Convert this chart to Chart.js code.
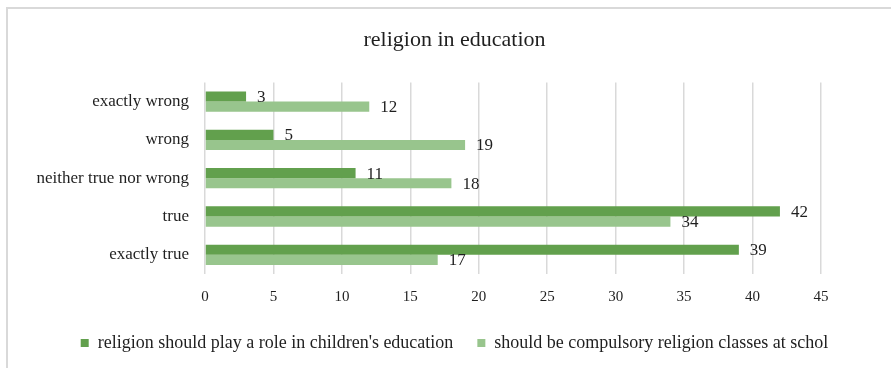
<!DOCTYPE html>
<html>
<head>
<meta charset="utf-8">
<script src="https://cdn.jsdelivr.net/npm/chart.js@4.4.1/dist/chart.umd.min.js"></script>
<style>
  html, body { margin: 0; padding: 0; background: #fff; }
  #wrap { position: relative; width: 891px; height: 368px; }
</style>
</head>
<body>
<div id="wrap"><canvas id="chart"></canvas></div>
<script>
const categories = ['exactly wrong', 'wrong', 'neither true nor wrong', 'true', 'exactly true'];
const roleInEducation = [3, 5, 11, 42, 39];
const compulsoryClasses = [12, 19, 18, 34, 17];
const seriesNames = [
  "religion should play a role in children's education",
  'should be compulsory religion classes at schol',
];
const xTicks = [0, 5, 10, 15, 20, 25, 30, 35, 40, 45];

const serif = '"Liberation Serif", "Times New Roman", serif';
const textColor = '#1f1f1f';

// light grey frame round the chart (only top and left edges are in view)
const framePlugin = {
  id: 'frame',
  beforeDraw(chart) {
    const ctx = chart.ctx;
    ctx.save();
    ctx.strokeStyle = '#d9d9d9';
    ctx.lineWidth = 2;
    ctx.beginPath();
    ctx.moveTo(7, chart.height);
    ctx.lineTo(7, 8);
    ctx.lineTo(chart.width, 8);
    ctx.stroke();
    ctx.restore();
  },
};

// value labels just right of each bar end
const valueLabels = {
  id: 'valueLabels',
  afterDatasetsDraw(chart) {
    const ctx = chart.ctx;
    ctx.save();
    ctx.font = '17px ' + serif;
    ctx.fillStyle = textColor;
    ctx.textAlign = 'left';
    ctx.textBaseline = 'middle';
    chart.data.datasets.forEach((ds, i) => {
      chart.getDatasetMeta(i).data.forEach((bar, j) => {
        ctx.fillText(ds.data[j], bar.x + 11, bar.y + 1);
      });
    });
    ctx.restore();
  },
};

new Chart(document.getElementById('chart'), {
  type: 'bar',
  data: {
    labels: categories,
    datasets: [
      {
        label: seriesNames[0],
        data: roleInEducation,
        backgroundColor: '#62a04d',
        borderWidth: 0,
      },
      {
        label: seriesNames[1],
        data: compulsoryClasses,
        backgroundColor: '#98c58d',
        borderWidth: 0,
      },
    ],
  },
  options: {
    indexAxis: 'y',
    responsive: true,
    maintainAspectRatio: false,
    animation: false,
    datasets: {
      bar: { categoryPercentage: 0.53, barPercentage: 1.0 },
    },
    layout: { padding: { top: 0, right: 0, bottom: 6, left: 18 } },
    plugins: {
      title: {
        display: true,
        text: 'religion in education',
        color: textColor,
        font: { family: serif, size: 22, weight: 'normal' },
        padding: { top: 27, bottom: 29 },
      },
      legend: {
        position: 'bottom',
        labels: {
          color: textColor,
          font: { family: serif, size: 18 },
          boxWidth: 8,
          boxHeight: 8,
          padding: 24,
        },
      },
      tooltip: { enabled: false },
    },
    scales: {
      x: {
        min: 0,
        max: 45,
        afterBuildTicks: scale => {
          scale.ticks = xTicks.map(v => ({ value: v }));
        },
        afterFit: scale => {
          scale.height = 36;
        },
        grid: { color: '#d9d9d9', lineWidth: 1.5, drawTicks: false },
        border: { display: false },
        ticks: {
          color: textColor,
          font: { family: serif, size: 15 },
          padding: 14,
        },
      },
      y: {
        afterFit: scale => {
          scale.width = 187;
        },
        grid: { display: false, drawTicks: false },
        border: { display: false },
        ticks: {
          color: textColor,
          font: { family: serif, size: 17 },
          padding: 16,
        },
      },
      // empty spacer on the right so the plot ends where the reference's does
      yRight: {
        type: 'category',
        position: 'right',
        afterFit: scale => {
          scale.width = 70;
        },
        grid: { display: false, drawTicks: false },
        border: { display: false },
        ticks: { display: false },
      },
    },
  },
  plugins: [framePlugin, valueLabels],
});
</script>
</body>
</html>
